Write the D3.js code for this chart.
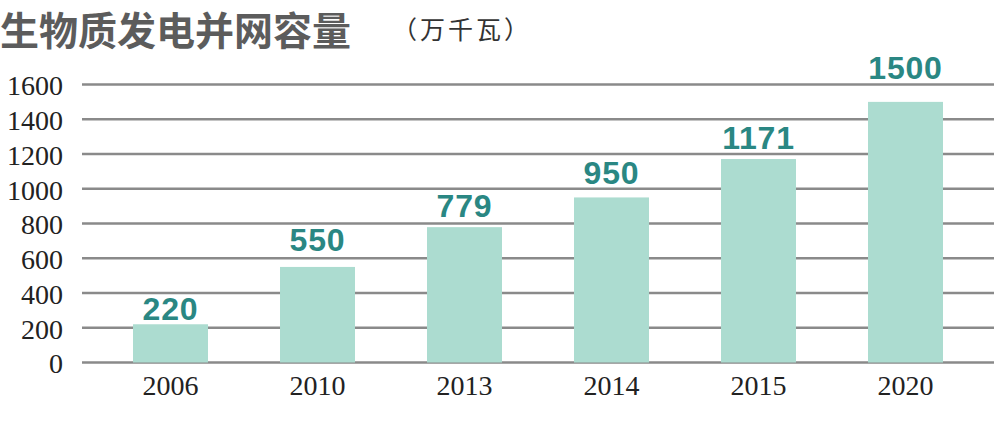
<!DOCTYPE html>
<html><head><meta charset="utf-8">
<script src="https://cdn.jsdelivr.net/npm/d3@7"></script>
<style>html,body{margin:0;padding:0;background:#fff;}svg{display:block;}</style>
</head><body>
<svg id="chart" width="1000" height="430"></svg>
<script>
const categories = ["2006", "2010", "2013", "2014", "2015", "2020"];
const values = [220, 550, 779, 950, 1171, 1500];
const yTicks = [0, 200, 400, 600, 800, 1000, 1200, 1400, 1600];
const titleText = "生物质发电并网容量";
const unitText = "（万千瓦）";

// layout: gap between bar top and value label baseline (px), as in the reference
const labelGap = [4, 16, 10, 13, 10, 23];

const svg = d3.select("#chart");
const x = d3.scaleBand().domain(categories).range([97, 979]).paddingInner(0.49).paddingOuter(0.245);
const y = d3.scaleLinear().domain([0, 1600]).range([362.5, 84.5]);

// gridlines
svg.append("g").selectAll("line").data(yTicks).join("line")
  .attr("x1", 82).attr("x2", 994)
  .attr("y1", d => y(d)).attr("y2", d => y(d))
  .attr("stroke", "#8a8a8a").attr("stroke-width", 2.5);

// y axis labels
const yAxis = d3.axisLeft(y).tickValues(yTicks).tickSize(0).tickPadding(0).tickFormat(d3.format("d"));
const ya = svg.append("g").attr("transform", "translate(63,1.5)").call(yAxis);
ya.select(".domain").remove();
ya.selectAll("text").attr("font-family", "'Liberation Serif', serif").attr("font-size", 28).attr("fill", "#222");

// x axis labels
const xAxis = d3.axisBottom(x).tickSize(0).tickPadding(0);
const xa = svg.append("g").attr("transform", "translate(0,375)").call(xAxis);
xa.select(".domain").remove();
xa.selectAll("text").attr("font-family", "'Liberation Serif', serif").attr("font-size", 28).attr("fill", "#222");

// bars
svg.append("g").selectAll("rect").data(values).join("rect")
  .attr("x", (d, i) => x(categories[i]))
  .attr("width", x.bandwidth())
  .attr("y", d => y(d))
  .attr("height", d => y(0) - y(d))
  .attr("fill", "#acdcd0");

// value labels
svg.append("g").selectAll("text").data(values).join("text")
  .attr("x", (d, i) => x(categories[i]) + x.bandwidth() / 2)
  .attr("y", (d, i) => y(d) - labelGap[i])
  .attr("text-anchor", "middle")
  .attr("font-family", "'Liberation Sans', Arial, sans-serif")
  .attr("font-weight", "bold")
  .attr("font-size", 32)
  .attr("letter-spacing", 0.8)
  .attr("fill", "#2a8783")
  .text(d => d);

// title
svg.append("text").attr("x", 0).attr("y", 45)
  .attr("font-family", "'Noto Sans CJK SC', sans-serif").attr("font-weight", "bold")
  .attr("font-size", 39).attr("fill", "#5c5c5c")
  .text(titleText);
svg.append("text").attr("x", 392).attr("y", 39)
  .attr("font-family", "'Noto Sans CJK SC', sans-serif")
  .attr("font-size", 25).attr("letter-spacing", 3).attr("fill", "#333")
  .text(unitText);
</script>
</body></html>
